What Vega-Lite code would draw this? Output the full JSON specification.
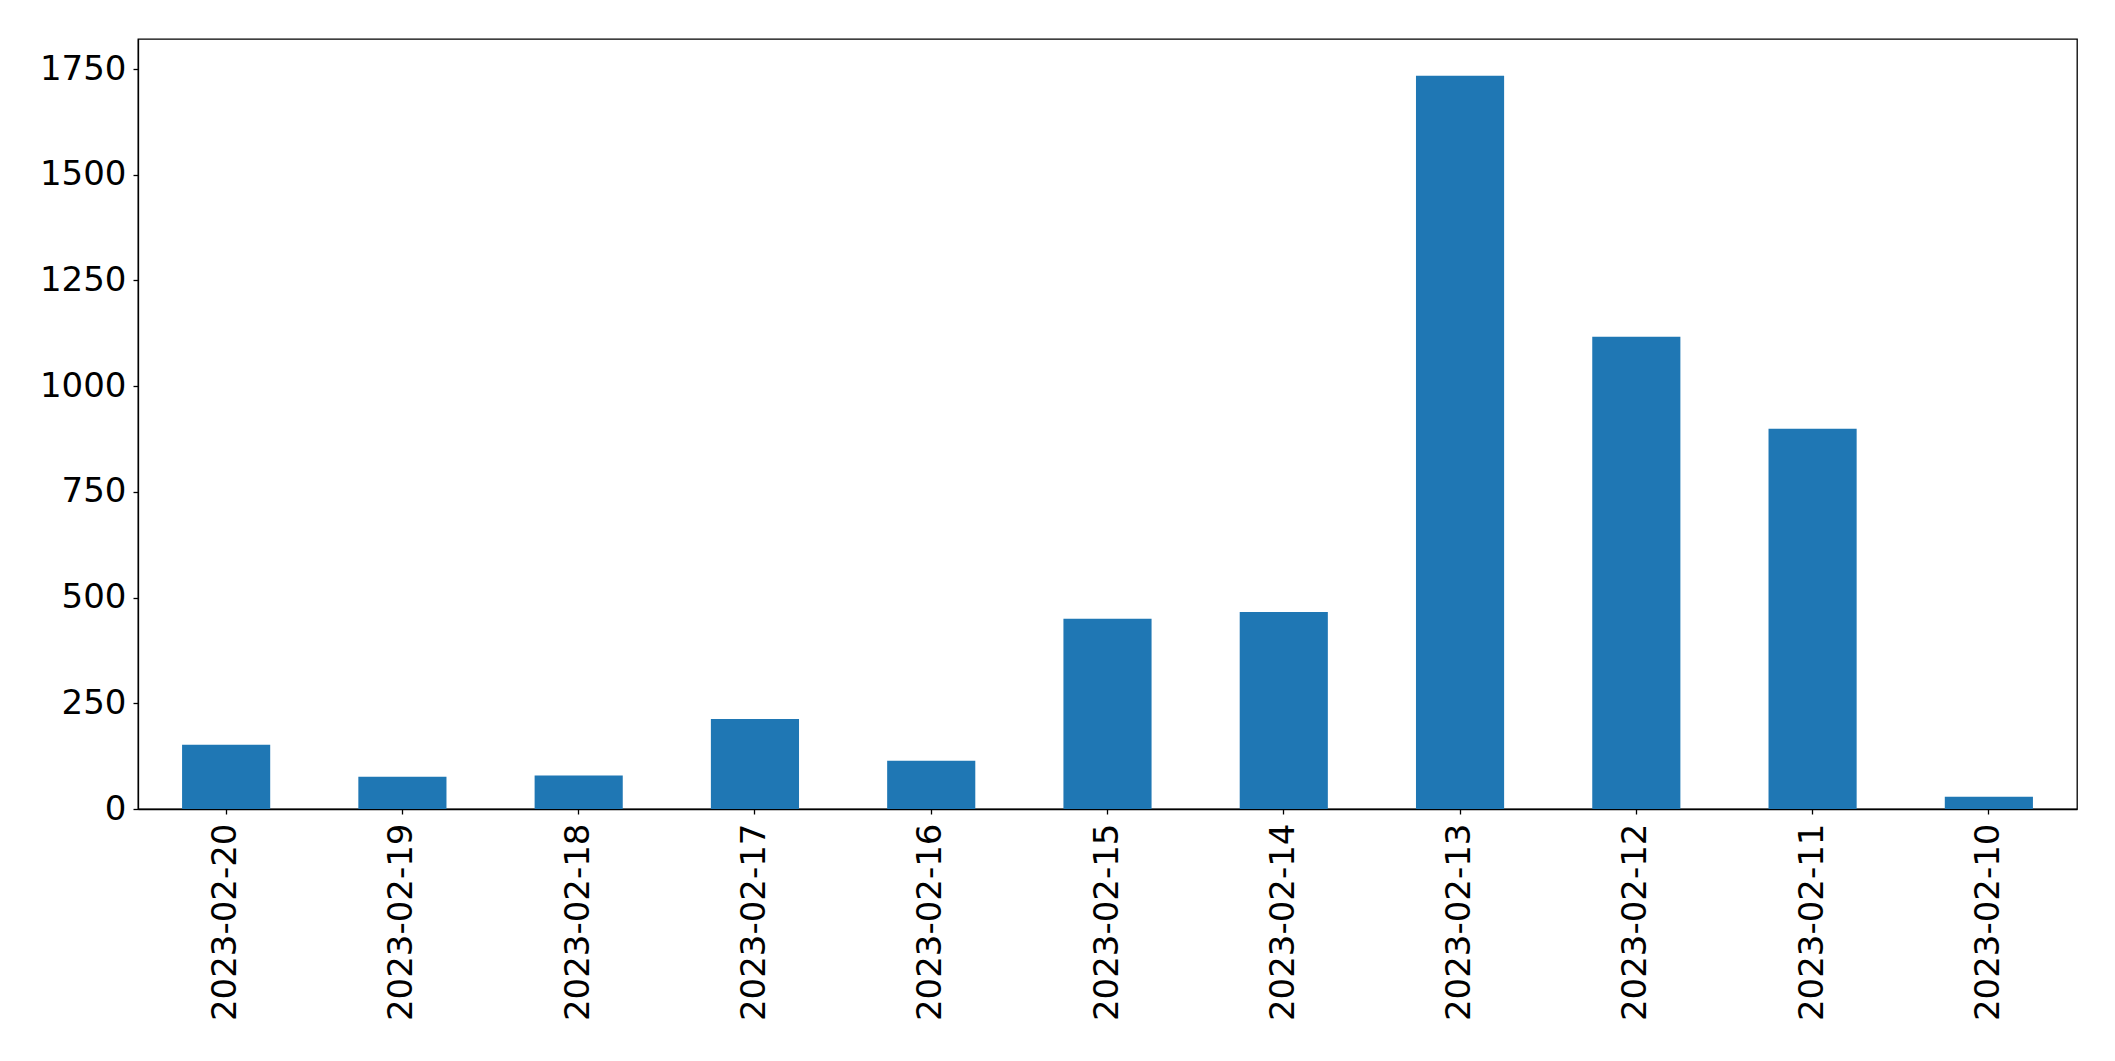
{
  "$schema": "https://vega.github.io/schema/vega-lite/v6.json",
  "width": 1939,
  "height": 770,
  "autosize": {"type": "none"},
  "padding": {"left": 138, "top": 39, "right": 38, "bottom": 252},
  "background": "white",
  "data": {"values": [
    {"date": "2023-02-20", "count": 152},
    {"date": "2023-02-19", "count": 76},
    {"date": "2023-02-18", "count": 79},
    {"date": "2023-02-17", "count": 213},
    {"date": "2023-02-16", "count": 114},
    {"date": "2023-02-15", "count": 450},
    {"date": "2023-02-14", "count": 466},
    {"date": "2023-02-13", "count": 1734},
    {"date": "2023-02-12", "count": 1117},
    {"date": "2023-02-11", "count": 899},
    {"date": "2023-02-10", "count": 29}
  ]},
  "mark": {"type": "bar", "color": "#1f77b4"},
  "encoding": {
    "x": {
      "field": "date", "type": "nominal", "sort": null,
      "scale": {"paddingInner": 0.5, "paddingOuter": 0.25},
      "axis": {"title": null, "labelAngle": -90, "labelFont": "DejaVu Sans", "labelFontSize": 34, "labelColor": "black", "labelLimit": 0,
               "labelPadding": 9, "tickColor": "black", "tickSize": 5, "tickWidth": 1.3, "domainColor": "black", "domainWidth": 1.3, "grid": false}
    },
    "y": {
      "field": "count", "type": "quantitative",
      "scale": {"domain": [0, 1821], "nice": false, "zero": true},
      "axis": {"title": null, "values": [0, 250, 500, 750, 1000, 1250, 1500, 1750], "format": "d", "labelFont": "DejaVu Sans", "labelFontSize": 34, "labelColor": "black", "labelLimit": 0,
               "labelPadding": 7, "tickColor": "black", "tickSize": 5, "tickWidth": 1.3, "domainColor": "black", "domainWidth": 1.3, "grid": false}
    }
  },
  "config": {"view": {"stroke": "black", "strokeWidth": 1.3}}
}
